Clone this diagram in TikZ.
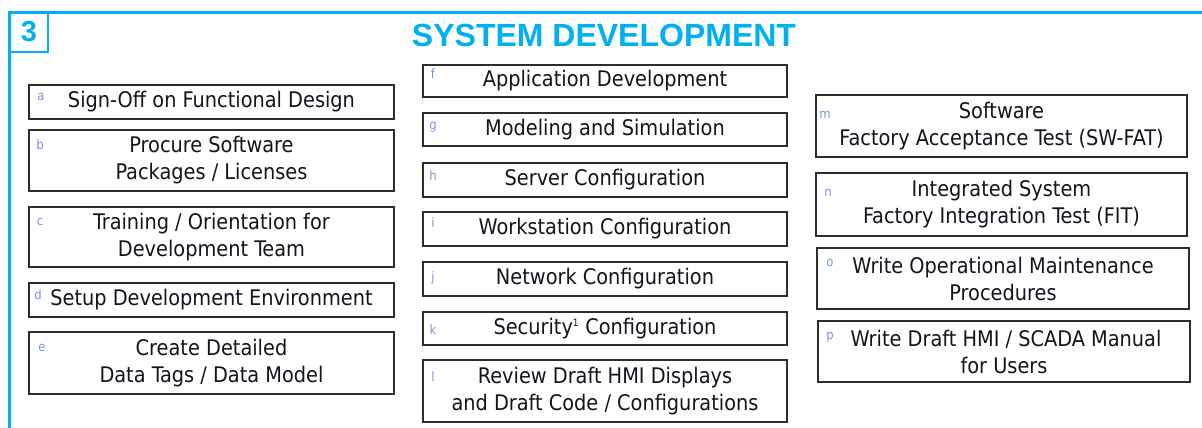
\documentclass[tikz,border=0pt]{standalone}
\usepackage{fontspec}
\setmainfont{DejaVu Sans Condensed}
\newfontfamily\titlefont{Liberation Sans}
\definecolor{cyanline}{RGB}{0,176,240}
\definecolor{lettercol}{RGB}{120,150,220}
\definecolor{boxline}{RGB}{45,45,45}
\definecolor{txt}{RGB}{20,20,30}
\tikzset{
  task/.style={draw=boxline, line width=1.6pt, fill=white, inner sep=0pt, align=center,
    text=txt, font=\fontsize{21.5}{27}\selectfont},
  letter/.style={text=lettercol, inner sep=0pt, font=\fontsize{13}{13}\selectfont},
  frameline/.style={draw=cyanline, line width=2.8pt},
}
\begin{document}
\begin{tikzpicture}[x=1pt,y=-1pt]
\useasboundingbox (0,0) rectangle (1202,428);
% frame
\coordinate (fbl) at (9.5,430);
\coordinate (ftl) at (9.5,12.5);
\coordinate (ftr) at (1204,12.5);
\draw[frameline] (fbl) -- (ftl) -- (ftr);
\node[draw=cyanline, line width=2.6pt, minimum width=38pt, minimum height=40pt, inner sep=0pt,
  text=cyanline, font=\titlefont\bfseries\fontsize{29}{29}\selectfont] (num) at (29,32) {\raisebox{-3pt}{3}};
\node[text=cyanline, font=\titlefont\bfseries\fontsize{32}{32}\selectfont, inner sep=0pt] (title) at (604,35) {SYSTEM DEVELOPMENT};
% column 1
\node[task, minimum width=365pt, minimum height=34pt] (a) at (211.5,102) {Sign-Off on Functional Design};
\node[task, minimum width=365pt, minimum height=61pt] (b) at (211.5,160.5) {Procure Software\\Packages / Licenses};
\node[task, minimum width=365pt, minimum height=60pt] (c) at (211.5,237) {Training / Orientation for\\Development Team};
\node[task, minimum width=365pt, minimum height=34pt] (d) at (211.5,300) {Setup Development Environment};
\node[task, minimum width=365pt, minimum height=62pt] (e) at (211.5,363) {Create Detailed\\Data Tags / Data Model};
% column 2
\node[task, minimum width=364pt, minimum height=32pt] (f) at (605,81) {Application Development};
\node[task, minimum width=364pt, minimum height=33pt] (g) at (605,129.5) {Modeling and Simulation};
\node[task, minimum width=364pt, minimum height=34pt] (h) at (605,180) {Server Configuration};
\node[task, minimum width=364pt, minimum height=34pt] (i) at (605,229) {Workstation Configuration};
\node[task, minimum width=364pt, minimum height=34pt] (j) at (605,279) {Network Configuration};
\node[task, minimum width=364pt, minimum height=33pt] (k) at (605,328.5) {Security\textsuperscript{\fontsize{10}{10}\selectfont 1} Configuration};
\node[task, minimum width=364pt, minimum height=62pt] (l) at (605,391) {Review Draft HMI Displays\\and Draft Code / Configurations};
% column 3
\node[task, minimum width=371pt, minimum height=62pt] (m) at (1001.5,126) {Software\\Factory Acceptance Test (SW-FAT)};
\node[task, minimum width=371pt, minimum height=63pt] (n) at (1001.5,204.5) {Integrated System\\Factory Integration Test (FIT)};
\node[task, minimum width=372pt, minimum height=61pt] (o) at (1003,278.5) {Write Operational Maintenance\\Procedures};
\node[task, minimum width=372pt, minimum height=61pt] (p) at (1004,351.5) {\hspace*{4pt}Write Draft HMI / SCADA Manual\\for Users};
% letters
\node[letter] (la) at (41,97) {a};
\node[letter] (lb) at (40,145) {b};
\node[letter] (lc) at (40,222) {c};
\node[letter] (ld) at (38,295) {d};
\node[letter] (le) at (42,348) {e};
\node[letter] (lf) at (433,74) {f};
\node[letter] (lg) at (433,127) {g};
\node[letter] (lh) at (433,176) {h};
\node[letter] (li) at (433,223) {i};
\node[letter] (lj) at (433,278) {j};
\node[letter] (lk) at (433,330) {k};
\node[letter] (ll) at (433,377) {l};
\node[letter] (lm) at (825,115) {m};
\node[letter] (ln) at (828,193) {n};
\node[letter] (lo) at (830,263) {o};
\node[letter] (lp) at (830,337) {p};
\end{tikzpicture}
\end{document}
